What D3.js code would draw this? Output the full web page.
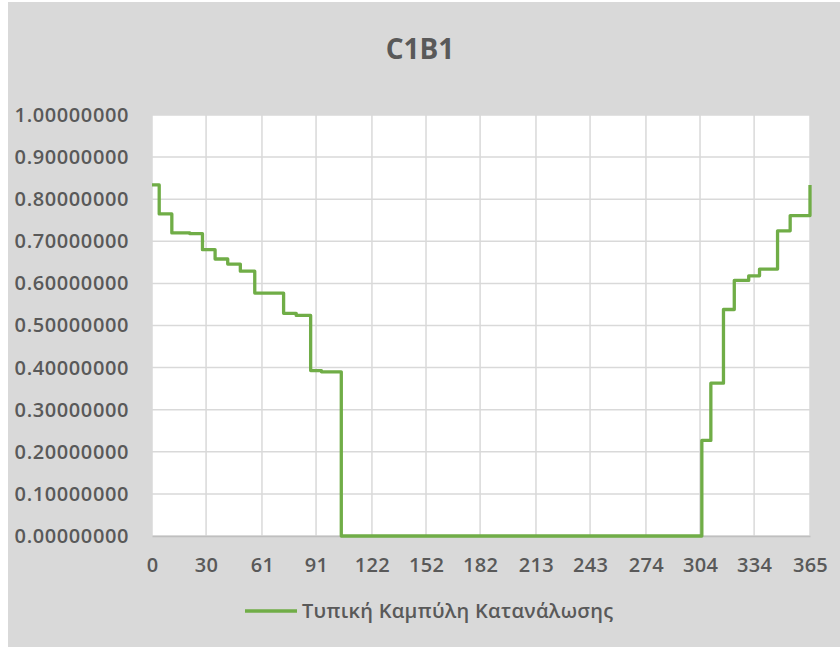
<html>
<head>
<meta charset="utf-8">
<script src='https://d3js.org/d3.v7.min.js'></script>
<style>
body {margin: 0; background: white;}
text {font-family: "Open Sans", "DejaVu Sans", sans-serif; fill: #595959;}
</style>
</head>
<body onload='init()'>
<svg width=840 height=647></svg>

<script>
// step curve: value holds from this day until the next day in the list
var stepDays   = [0, 4, 11, 21, 28, 35, 42, 49, 57, 73, 80, 88, 94, 105, 305, 310, 317, 323, 331, 337, 347, 354, 364, 365];
var stepValues = [0.834, 0.765, 0.720, 0.718, 0.680, 0.658, 0.646, 0.629, 0.577, 0.529, 0.524, 0.393, 0.390, 0,
                  0.227, 0.363, 0.538, 0.607, 0.618, 0.634, 0.725, 0.761, 0.761, 0.834];
var xTicks = [0, 30, 61, 91, 122, 152, 182, 213, 243, 274, 304, 334, 365];
var yTicks = [0, 0.1, 0.2, 0.3, 0.4, 0.5, 0.6, 0.7, 0.8, 0.9, 1.0];
var title = "C1B1";
var seriesName = "Τυπική Καμπύλη Κατανάλωσης";

function init() {
var left = 152, right = 810, top = 115, bottom = 536;
var lineColor = "#70ad47";

var svg = d3.select("svg");

var data = stepDays.map(function(d, i) { return {day: d, v: stepValues[i]}; });

var x = d3.scaleLinear().domain([0, 365]).range([left, right]);
var y = d3.scaleLinear().domain([0, 1]).range([bottom, top]);

// chart background
svg.append("rect")
   .attr("x", 8).attr("y", 2)
   .attr("width", 832).attr("height", 645)
   .attr("fill", "#d9d9d9");

svg.append("rect")
   .attr("x", left).attr("y", top)
   .attr("width", right - left).attr("height", bottom - top)
   .attr("fill", "white");

// grid
svg.append("g")
   .selectAll("line")
   .data(yTicks)
   .enter()
   .append("line")
    .attr("x1", left).attr("x2", right)
    .attr("y1", function(d) { return y(d); })
    .attr("y2", function(d) { return y(d); })
    .attr("stroke", "#d9d9d9")
    .attr("stroke-width", 1.5);

svg.append("g")
   .selectAll("line")
   .data(xTicks)
   .enter()
   .append("line")
    .attr("x1", function(d) { return x(d); })
    .attr("x2", function(d) { return x(d); })
    .attr("y1", top).attr("y2", bottom)
    .attr("stroke", "#d9d9d9")
    .attr("stroke-width", 1.5);

// axes
var yAxis = svg.append("g")
   .attr("transform", "translate(" + (left - 20) + ",0)")
   .call(d3.axisLeft(y).tickValues(yTicks).tickFormat(d3.format(".8f")).tickSize(0));
yAxis.select(".domain").remove();
yAxis.selectAll("text")
   .style("font-size", "20px").style("font-weight", 600).style("letter-spacing", "0.6px")
   .style("fill", "#595959");

var xAxis = svg.append("g")
   .attr("transform", "translate(0," + bottom + ")")
   .call(d3.axisBottom(x).tickValues(xTicks).tickFormat(d3.format("d")).tickSize(0).tickPadding(22));
xAxis.select(".domain").attr("stroke", "#bfbfbf").attr("stroke-width", 1.5);
xAxis.selectAll("text")
   .style("font-size", "20px").style("font-weight", 600).style("letter-spacing", "0.3px")
   .style("fill", "#595959");

// series
var line = d3.line()
   .x(function(d) { return x(d.day); })
   .y(function(d) { return y(d.v); })
   .curve(d3.curveStepAfter);

svg.append("path")
   .datum(data)
   .attr("d", line)
   .attr("fill", "none")
   .attr("stroke", lineColor)
   .attr("stroke-width", 3.3)
   .attr("stroke-linejoin", "round");

// title
svg.append("text")
   .attr("x", 420).attr("y", 59)
   .style("text-anchor", "middle")
   .style("font-size", "28px")
   .style("font-weight", 700)
   .text(title);

// legend
svg.append("line")
   .attr("x1", 245).attr("x2", 297)
   .attr("y1", 611).attr("y2", 611)
   .attr("stroke", lineColor)
   .attr("stroke-width", 3.3);

svg.append("text")
   .attr("x", 302).attr("y", 618)
   .style("font-size", "20px")
   .style("font-weight", 600)
   .style("letter-spacing", "0.3px")
   .text(seriesName);
}
</script>
</body>
</html>
